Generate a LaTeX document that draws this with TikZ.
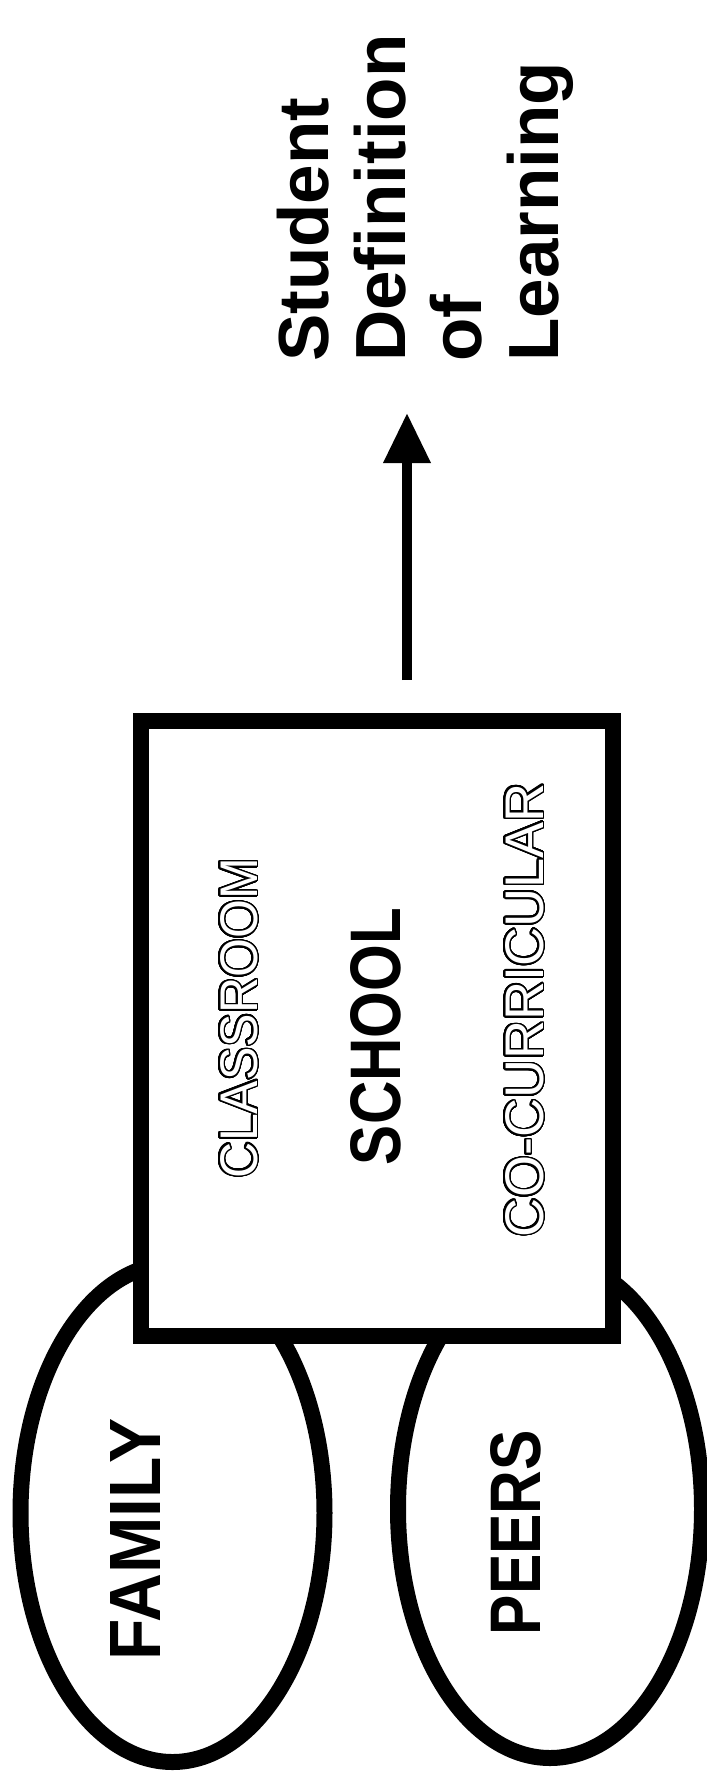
\documentclass[tikz,border=0pt]{standalone}
\usepackage{fontspec}
\setmainfont{Liberation Sans}
\usepackage{graphicx}
\usepackage{contour}
\contourlength{1.6pt}
\contournumber{40}
\usetikzlibrary{shapes.geometric,arrows.meta}
\newcommand{\hollowtext}[1]{\contour{black}{\textcolor{white}{#1}}}
\newcommand{\bigbold}{\bfseries\fontsize{68}{72}\selectfont}
\newcommand{\midreg}{\mdseries\fontsize{52}{56}\selectfont}
\tikzset{
  thick line/.style={line width=16pt, draw=black},
  oval/.style={ellipse, thick line, fill=white, inner sep=0pt, minimum width=304pt, minimum height=498pt},
  schoolbox/.style={rectangle, thick line, fill=white, inner sep=0pt, minimum width=472pt, minimum height=615pt},
  uplabel/.style={rotate=90, anchor=base west, inner sep=0pt, outer sep=0pt},
  flow/.style={line width=10pt, -{Triangle[length=50pt,width=45pt]}}
}
\begin{document}
\begin{tikzpicture}[x=1pt,y=-1pt]
\useasboundingbox[fill=white] (0,0) rectangle (707,1773);
% ellipses
\node[oval] (family) at (172.5,1513) {};
\node[oval] (peers) at (550,1509) {};
% school box
\node[schoolbox] (school) at (377,1028.5) {};
% labels in ellipses
\node[uplabel] (familytext) at (160,1660) {\resizebox{242pt}{50pt}{\bigbold FAMILY}};
\node[uplabel] (peerstext) at (540,1635) {\resizebox{205pt}{50pt}{\bigbold PEERS}};
% labels in box
\node[uplabel] (schooltext) at (400,1165) {\resizebox{257pt}{50pt}{\bigbold SCHOOL}};
\node[uplabel] (classroom) at (257,1178) {\resizebox{320pt}{37pt}{\midreg\hollowtext{CLASSROOM}}};
\node[uplabel] (cocurr) at (543,1237) {\resizebox{454pt}{38pt}{\midreg\hollowtext{CO-CURRICULAR}}};
% outcome text
\node[rotate=90, anchor=north west, inner sep=0pt, align=left, font=\bfseries\fontsize{71}{76.5}\selectfont] (learning) at (277,362) {Student\\Definition\\of\\Learning};
% arrow
\coordinate (astart) at (407,680);
\coordinate (aend) at (407,413);
\draw[flow] (astart) -- (aend);
\end{tikzpicture}
\end{document}
